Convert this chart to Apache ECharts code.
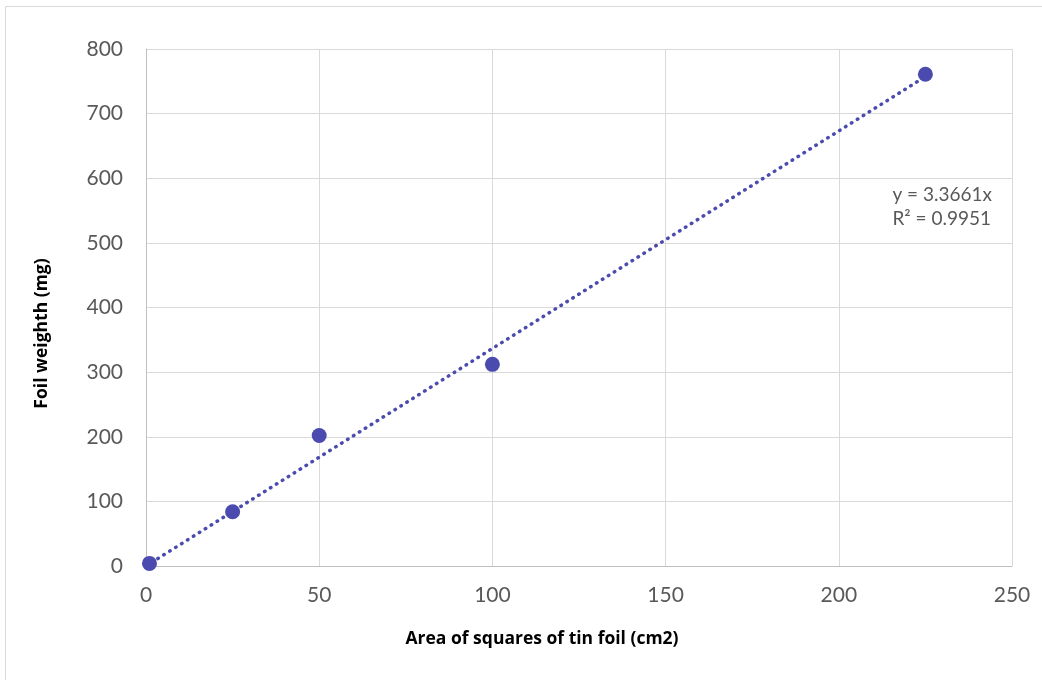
<!DOCTYPE html>
<html>
<head>
<meta charset="utf-8">
<script src="https://cdn.jsdelivr.net/npm/echarts@6/dist/echarts.min.js"></script>
<style>
html,body{margin:0;padding:0;background:#fff;}
#chart{width:1042px;height:680px;}
</style>
</head>
<body>
<div id="chart"></div>
<script>
const areas = [1, 25, 50, 100, 225];
const weights = [4, 84, 202, 312, 761];
const trendSlope = 3.3661;
const trendX = [0, 225];
const equationLines = ['y = 3.3661x', 'R² = 0.9951'];
const xTitle = 'Area of squares of tin foil (cm2)';
const yTitle = 'Foil weighth (mg)';

const chart = echarts.init(document.getElementById('chart'), null, {renderer: 'canvas'});
const font = 'Lato, "Open Sans", sans-serif';
const titleFont = '"Open Sans", Lato, sans-serif';
const markColor = '#4B4BAF';

chart.setOption({
  animation: false,
  grid: {left: 146, right: 30, top: 49, bottom: 114, containLabel: false},
  xAxis: {
    type: 'value', min: 0, max: 250, interval: 50,
    name: xTitle, nameLocation: 'middle', nameGap: 64,
    nameTextStyle: {fontFamily: titleFont, fontWeight: 'bold', fontSize: 17.5, color: '#000',
                    padding: [0, 74, 0, 0]},
    axisLine: {show: true, lineStyle: {color: '#bfbfbf', width: 1}},
    axisTick: {show: false},
    axisLabel: {fontFamily: font, fontSize: 21, color: '#595959', margin: 19},
    splitLine: {show: true, lineStyle: {color: '#d9d9d9', width: 1}}
  },
  yAxis: {
    type: 'value', min: 0, max: 800, interval: 100,
    name: yTitle, nameLocation: 'middle', nameGap: 95, nameRotate: 90,
    nameTextStyle: {fontFamily: titleFont, fontWeight: 'bold', fontSize: 17.5, color: '#000',
                    padding: [0, 52, 0, 0]},
    axisLine: {show: true, lineStyle: {color: '#bfbfbf', width: 1}},
    axisTick: {show: false},
    axisLabel: {fontFamily: font, fontSize: 21, color: '#595959', margin: 23},
    splitLine: {show: true, lineStyle: {color: '#d9d9d9', width: 1}}
  },
  graphic: [
    {type: 'rect', shape: {x: 5.5, y: 6.5, width: 1100, height: 700}, silent: true,
     style: {fill: 'none', stroke: '#d9d9d9', lineWidth: 1}, z: -10},
    {type: 'text', right: 50, top: 183,
     style: {text: equationLines.join('\n'), fontFamily: font, fontSize: 19, fill: '#595959',
             align: 'right', lineHeight: 24}}
  ],
  series: [
    {
      type: 'line',
      data: trendX.map(x => [x, x * trendSlope]),
      symbol: 'none',
      lineStyle: {color: markColor, width: 3.5, type: [0.5, 6.5], cap: 'round'},
      z: 2
    },
    {
      type: 'scatter',
      data: areas.map((a, i) => [a, weights[i]]),
      symbol: 'circle', symbolSize: 15,
      itemStyle: {color: markColor, opacity: 1},
      z: 3
    }
  ]
});
</script>
</body>
</html>
